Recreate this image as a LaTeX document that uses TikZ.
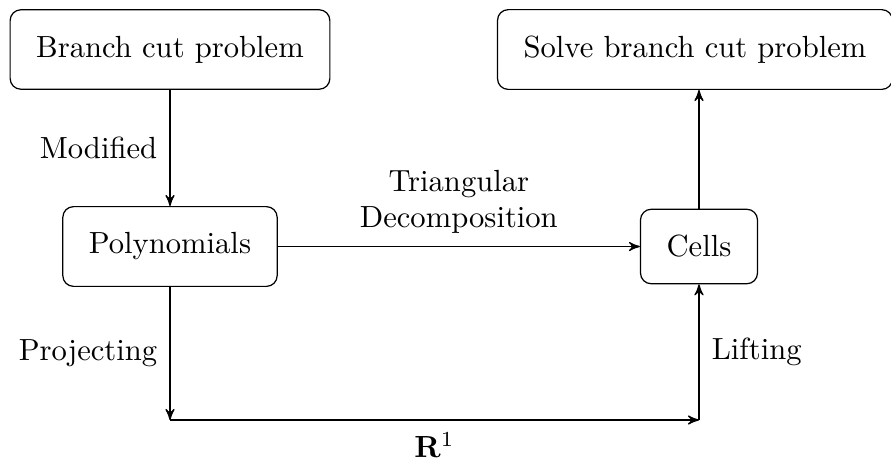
\documentclass[tikz,border=0pt]{standalone}
\usetikzlibrary{arrows}
\begin{document}
\begin{tikzpicture}[x=0.3268pt,y=-0.3268pt,
  box/.style={draw,rounded corners=3.5pt,inner sep=3mm},
  conn/.style={-stealth'},
  lbl/.style={inner sep=4pt}]
\useasboundingbox (0,0) rectangle (891,464);
\node[box] (bcp) at (170,49.5) {Branch cut problem};
\node[box] (sol) at (695,49.5) {Solve branch cut problem};
\node[box] (poly) at (170,246.5) {Polynomials};
\node[box] (cells) at (699,246.5) {Cells};
\coordinate (bl) at (170,420);
\coordinate (br) at (699,420);
\draw[conn] (bcp) -- node[left,lbl] {Modified} (poly);
\draw[conn] (poly) -- node[above,align=center,lbl] {Triangular\\Decomposition} (cells);
\draw[conn] (poly) -- node[left,lbl] {Projecting} (bl);
\draw[conn] (bl) -- node[below,lbl] {$\mathbf{R}^1$} (br);
\draw[conn] (br) -- node[right,lbl] {Lifting} (cells);
\draw[conn] (cells) -- (sol.south -| cells);
\end{tikzpicture}
\end{document}
